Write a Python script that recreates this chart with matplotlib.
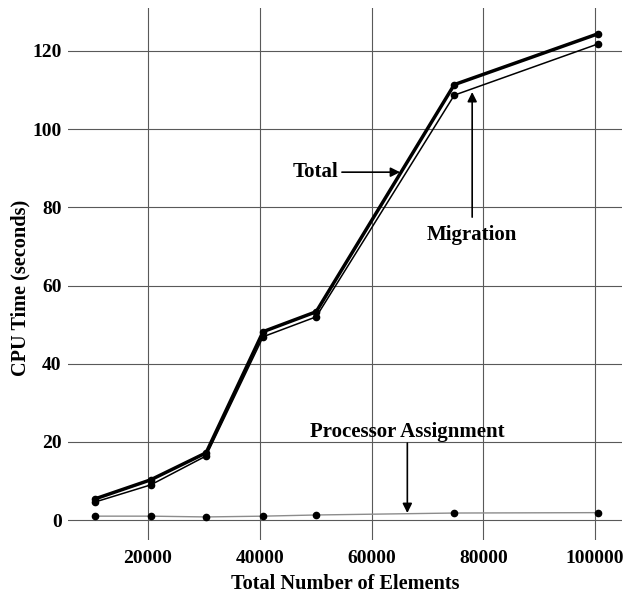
import matplotlib
matplotlib.use("Agg")
import matplotlib.pyplot as plt

# values
n_elements = [10500, 20500, 30400, 40600, 50100, 74800, 100500]
total_time = [5.4, 10.3, 17.2, 48.2, 53.3, 111.4, 124.4]
migration_time = [4.6, 9.0, 16.4, 46.9, 52.0, 108.7, 121.8]
assign_time = [1.0, 1.0, 0.8, 1.0, 1.3, 1.8, 1.9]

x_ticks = [20000, 40000, 60000, 80000, 100000]
y_ticks = [0, 20, 40, 60, 80, 100, 120]

plt.rcParams['font.family'] = ['Liberation Serif', 'DejaVu Serif']
plt.rcParams['font.weight'] = 'bold'

fig = plt.figure(figsize=(6.31, 6.05), dpi=100)
ax = fig.add_axes([68/631, 1-540/605, 554/631, 532/605])

ax.plot(n_elements, total_time, color='black', lw=2.5, marker='o', ms=4.5, zorder=4)
ax.plot(n_elements, migration_time, color='black', lw=1.1, marker='o', ms=4.5, zorder=3)
ax.plot(n_elements, assign_time, color='0.55', lw=1.0, marker='o', ms=4.5,
        mfc='black', mec='black', zorder=3)

ax.set_xlim(5700, 104800)
ax.set_ylim(-5.1, 131)
ax.set_xticks(x_ticks)
ax.set_yticks(y_ticks)
ax.grid(True, color='0.35', lw=0.8)
ax.set_axisbelow(True)
for s in ax.spines.values():
    s.set_visible(False)
ax.tick_params(length=0, labelsize=14)
ax.tick_params(axis='x', pad=7)
ax.tick_params(axis='y', pad=4.5)
for lbl in ax.get_xticklabels() + ax.get_yticklabels():
    lbl.set_fontweight('bold')

ax.set_xlabel('Total Number of Elements', fontsize=14.6, fontweight='bold', labelpad=5)
ax.set_ylabel('CPU Time (seconds)', fontsize=14.6, fontweight='bold', va='center')
ax.yaxis.set_label_coords(-0.085, 0.474)

arrow = dict(arrowstyle='-|>', color='black', lw=1.2, mutation_scale=14, shrinkA=0, shrinkB=0)
ax.annotate('', xy=(65100, 89.0), xytext=(54700, 89.0), arrowprops=arrow)
ax.text(54000, 89.0, 'Total', ha='right', va='center', fontsize=15, fontweight='bold')

ax.annotate('', xy=(78000, 109.5), xytext=(78000, 77.5), arrowprops=arrow)
ax.text(78000, 72.9, 'Migration', ha='center', va='center', fontsize=15, fontweight='bold')

ax.annotate('', xy=(66400, 1.8), xytext=(66400, 19.7), arrowprops=arrow)
ax.text(66400, 22.5, 'Processor Assignment', ha='center', va='center', fontsize=15, fontweight='bold')

fig.savefig('out.png', dpi=100)
